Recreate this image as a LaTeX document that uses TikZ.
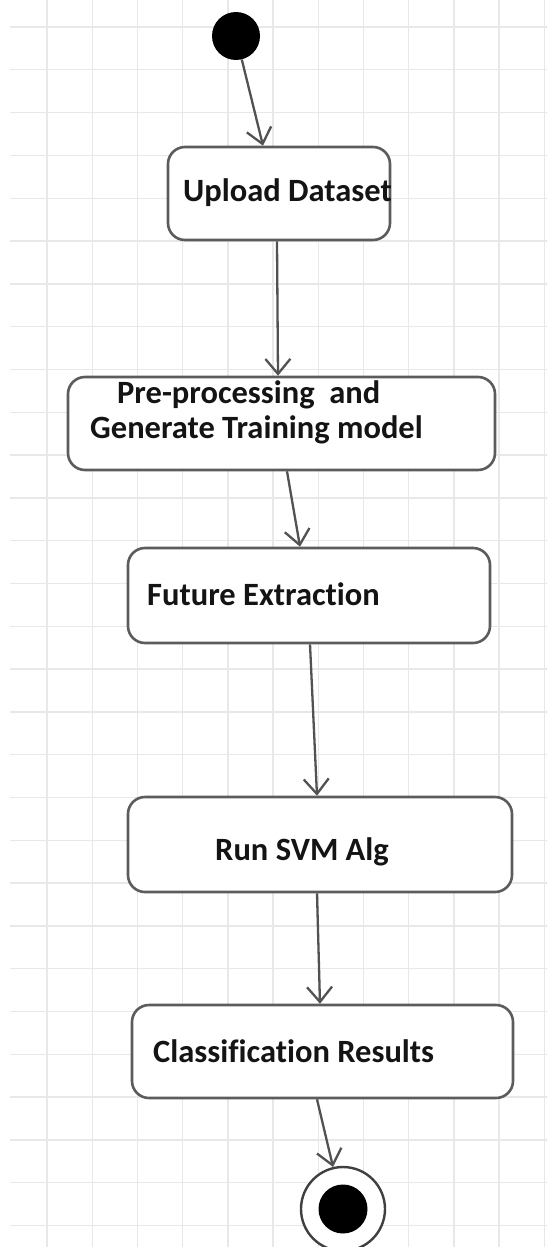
\documentclass[tikz,border=0pt]{standalone}
\usepackage{fontspec}
\setmainfont{Carlito}[Ligatures=NoCommon]
\usetikzlibrary{arrows.meta}
\begin{document}
\begin{tikzpicture}[x=1pt,y=-1pt,
  gridline/.style={draw=black!9, line width=1.4pt},
  activity/.style={draw=black!64, line width=2.6pt, fill=white, rounded corners=17pt, inner sep=0pt},
  acttext/.style={anchor=base west, inner sep=0pt, text=black!92, font=\fontsize{32.5}{38}\selectfont\bfseries},
  flow/.style={draw=black!68, line width=2.3pt, -{Straight Barb[length=15pt,width=25pt,line width=2.3pt]}},
  ]
  % page and grid paper
  \fill[white] (0,0) rectangle (547,1247);
  \useasboundingbox (0,0) rectangle (547,1247);
  \foreach \k in {0,...,11} \draw[gridline] ({47+45.2*\k},0) -- ({47+45.2*\k},1247);
  \foreach \k in {0,...,28} \draw[gridline] (10,{27+42.8*\k}) -- (547,{27+42.8*\k});

  % initial and final states
  \node[circle, fill=black, minimum size=48pt, inner sep=0pt] (start) at (236,36) {};
  \node[circle, draw=black!75, line width=2.4pt, fill=white, minimum size=84pt, inner sep=0pt] (final) at (343,1209) {};
  \node[circle, fill=black, minimum size=49pt, inner sep=0pt] (finaldot) at (final.center) {};

  % activities
  \node[activity, minimum width=222pt, minimum height=93pt] (up)  at (279,193.5) {};
  \node[activity, minimum width=427pt, minimum height=93pt] (pre) at (281.5,423.5) {};
  \node[activity, minimum width=362pt, minimum height=95pt] (fut) at (309,595.5) {};
  \node[activity, minimum width=384pt, minimum height=95pt] (svm) at (320,844.5) {};
  \node[activity, minimum width=381pt, minimum height=93pt] (cls) at (322.5,1051.5) {};

  % activity texts
  \begin{scope}
    \clip[rounded corners=17pt] ([xshift=1pt,yshift=1pt]up.south west) rectangle ([xshift=-1pt,yshift=-1pt]up.north east);
    \node[acttext] (tup) at (183,201) {Upload Datasets};
  \end{scope}
  \node[acttext] (tpre1) at (117,403) {Pre-processing\ \ and};
  \node[acttext] (tpre2) at (90,438) {Generate Training model};
  \node[acttext] (tfut) at (147,605) {Future Extraction};
  \node[acttext] (tsvm) at (215,860) {Run SVM Alg};
  \node[acttext] (tcls) at (153,1062) {Classification Results};

  % control flow
  \draw[flow] (start) -- ([xshift=-16pt]up.north);
  \draw[flow] ([xshift=-2pt]up.south) -- ([xshift=-3.5pt]pre.north);
  \draw[flow] ([xshift=5.5pt]pre.south) -- ([xshift=-9pt]fut.north);
  \draw[flow] ([xshift=1pt]fut.south) -- ([xshift=-3pt]svm.north);
  \draw[flow] ([xshift=-3pt]svm.south) -- ([xshift=-2.5pt]cls.north);
  \draw[flow] ([xshift=-5.5pt]cls.south) -- (final);
\end{tikzpicture}
\end{document}
